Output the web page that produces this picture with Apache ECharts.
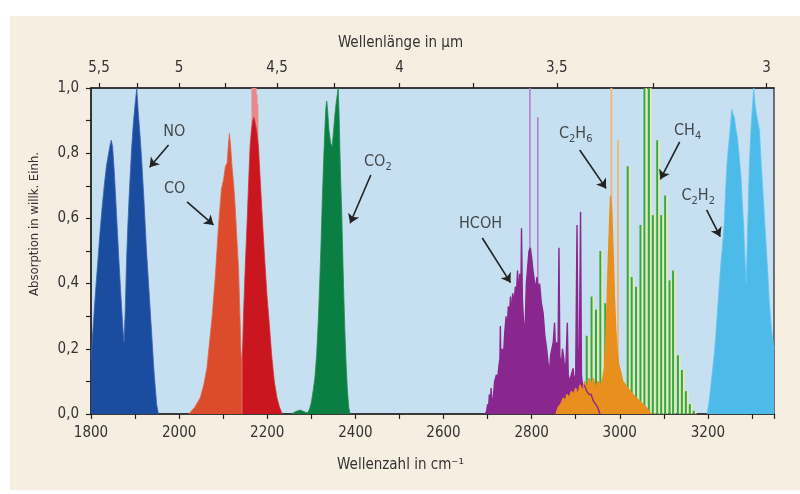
<!DOCTYPE html>
<html>
<head>
<meta charset="utf-8">
<script src="https://cdn.jsdelivr.net/npm/echarts@6/dist/echarts.min.js"></script>
<style>
  html, body { margin: 0; padding: 0; background: #fff; }
  #chart { width: 800px; height: 494px; }
</style>
</head>
<body>
<div id="chart"></div>
<script>
// wavenumber axis (cm-1) and wavelength ticks (um) for the top axis
const xMin = 1800, xMax = 3350;
const wavelengthLabels = [5.5, 5, 4.5, 4, 3.5, 3];
const wavelengthTicks = [5.5, 5.25, 5, 4.75, 4.5, 4.25, 4, 3.75, 3.5, 3.25, 3];

// band envelopes [wavenumber, absorption]
const noBand = [[1800,0.17],[1805,0.27],[1810,0.37],[1815,0.46],[1820,0.55],[1825,0.63],[1830,0.7],[1835,0.76],[1840,0.8],[1844,0.83],[1846,0.84],[1849,0.82],[1853,0.74],[1858,0.61],[1863,0.48],[1868,0.36],[1872,0.27],[1875,0.22],[1876,0.24],[1878,0.33],[1880,0.44],[1883,0.56],[1887,0.68],[1892,0.81],[1896,0.89],[1900,0.95],[1904,1.0],[1907,0.93],[1911,0.86],[1915,0.78],[1920,0.66],[1926,0.5],[1932,0.37],[1938,0.24],[1943,0.13],[1949,0.03],[1953,0]];
const coP = [[2022,0],[2035,0.02],[2048,0.05],[2056,0.09],[2063,0.14],[2069,0.22],[2075,0.3],[2082,0.42],[2089,0.57],[2096,0.69],[2101,0.72],[2105,0.76],[2109,0.77],[2112,0.83],[2114,0.86],[2117,0.82],[2120,0.76],[2124,0.7],[2127,0.64],[2131,0.54],[2135,0.44],[2138,0.3],[2140,0.2],[2142,0.16],[2142.3,0]];
const coR = [[2143.5,0],[2143.7,0.18],[2146,0.3],[2150,0.45],[2154,0.58],[2158,0.72],[2161,0.82],[2164,0.87],[2167,0.9],[2170,0.91],[2173,0.91],[2176,0.87],[2180,0.82],[2184,0.72],[2188,0.62],[2193,0.5],[2199,0.37],[2205,0.27],[2210,0.18],[2216,0.1],[2222,0.05],[2228,0.02],[2234,0]];
const co2Band = [[2255,0],[2265,0.008],[2275,0.012],[2285,0.006],[2292,0.004],[2296,0.015],[2300,0.035],[2304,0.07],[2308,0.11],[2312,0.18],[2316,0.29],[2319,0.4],[2322,0.52],[2325,0.66],[2328,0.78],[2331,0.88],[2333,0.94],[2335,0.96],[2337,0.93],[2340,0.87],[2344,0.83],[2347,0.82],[2350,0.86],[2353,0.91],[2356,0.95],[2359,0.98],[2361,1.0],[2363,0.92],[2365,0.8],[2367,0.7],[2369,0.62],[2372,0.45],[2374,0.35],[2376,0.26],[2379,0.15],[2382,0.07],[2385,0.02],[2388,0]];
const hcohBand = [[2695,0],[2698,0.01],[2700,0.03],[2702,0.01],[2704,0.06],[2706,0.02],[2708,0.08],[2710,0.03],[2713,0.05],[2716,0.1],[2720,0.12],[2723,0.11],[2726,0.15],[2728,0.17],[2729,0.27],[2730,0.17],[2733,0.2],[2736,0.18],[2739,0.25],[2742,0.3],[2744,0.24],[2747,0.33],[2750,0.31],[2752,0.36],[2754,0.3],[2757,0.37],[2760,0.34],[2763,0.39],[2766,0.38],[2768,0.44],[2770,0.36],[2773,0.43],[2775,0.3],[2777,0.57],[2779,0.35],[2781,0.3],[2784,0.23],[2786,0.3],[2788,0.4],[2791,0.45],[2794,0.5],[2797,0.51],[2800,0.48],[2803,0.44],[2806,0.41],[2809,0.38],[2812,0.42],[2815,0.38],[2818,0.4],[2822,0.34],[2826,0.31],[2830,0.24],[2834,0.2],[2837,0.16],[2840,0.12],[2843,0.18],[2846,0.2],[2849,0.22],[2852,0.28],[2854,0.2],[2857,0.22],[2860,0.2],[2862,0.51],[2864,0.18],[2867,0.14],[2870,0.2],[2873,0.17],[2875,0.13],[2878,0.16],[2881,0.28],[2883,0.12],[2886,0.1],[2890,0.12],[2894,0.14],[2897,0.1],[2900,0.12],[2903,0.58],[2905,0.2],[2908,0.14],[2911,0.62],[2913,0.12],[2916,0.08],[2920,0.09],[2925,0.07],[2930,0.06],[2935,0.06],[2940,0.04],[2945,0.03],[2950,0.02],[2955,0]];
const c2h6Band = [[2855,0],[2860,0.02],[2866,0.03],[2872,0.05],[2876,0.04],[2880,0.06],[2885,0.05],[2890,0.07],[2895,0.06],[2900,0.08],[2905,0.06],[2910,0.09],[2915,0.07],[2920,0.1],[2925,0.08],[2930,0.11],[2935,0.09],[2940,0.11],[2945,0.08],[2950,0.1],[2955,0.09],[2960,0.1],[2965,0.14],[2968,0.22],[2971,0.34],[2974,0.48],[2977,0.6],[2979,0.67],[2982,0.62],[2985,0.5],[2988,0.36],[2991,0.26],[2994,0.2],[2998,0.15],[3002,0.13],[3007,0.1],[3013,0.09],[3018,0.08],[3024,0.07],[3030,0.06],[3037,0.05],[3045,0.04],[3052,0.03],[3060,0.02],[3066,0.01],[3071,0]];
const c2h2Band = [[3198,0],[3203,0.04],[3207,0.09],[3211,0.14],[3215,0.19],[3219,0.26],[3222,0.32],[3226,0.4],[3230,0.47],[3234,0.53],[3237,0.58],[3240,0.68],[3243,0.76],[3246,0.81],[3249,0.85],[3252,0.9],[3254,0.935],[3257,0.92],[3260,0.91],[3264,0.87],[3267,0.85],[3271,0.79],[3275,0.73],[3278,0.65],[3281,0.58],[3284,0.48],[3287,0.4],[3290,0.56],[3294,0.76],[3298,0.88],[3301,0.94],[3304,1.0],[3307,0.95],[3310,0.92],[3313,0.9],[3317,0.87],[3320,0.79],[3324,0.7],[3328,0.61],[3332,0.52],[3336,0.43],[3339,0.35],[3343,0.28],[3346,0.24],[3350,0.2]];

// single lines [wavenumber, from, to]
const ch4Lines = [[2925,0,0.24],[2936,0,0.36],[2946,0,0.32],[2956,0,0.5],[2967,0,0.34],[3018,0,0.76],[3027,0,0.42],[3037,0,0.39],[3047,0,0.58],[3056,0,1.0],[3066,0,1.0],[3075,0,0.61],[3085,0,0.84],[3094,0,0.61],[3103,0,0.67],[3113,0,0.41],[3121,0,0.44],[3132,0,0.18],[3141,0,0.135],[3150,0,0.07],[3159,0,0.03],[3168,0,0.01]];
const hcohLines = [[2796,0,1.0],[2814,0,0.91]];
const c2h6Lines = [[2981,0,1.0],[2996,0,0.84]];
const coTopLines = [[2166,0,1.0],[2168,0,1.0],[2170,0,1.0],[2172,0,1.0],[2174,0,1.0],[2176,0,0.98],[2178,0,0.95]];
const gapLines = [[1876,0,0.29,'#9fa9da'],[2142.8,0,0.17,'#f2b7a6'],[2348,0.17,0.82,'#e4ea98']];

// annotations: [label, textX, textY, arrowFromX, arrowFromY, arrowToX, arrowToY]
const notes = [
  ['{n|NO}', 1989, 0.862, 1976, 0.825, 1933, 0.757],
  ['{n|CO}', 1990, 0.687, 2018, 0.651, 2078, 0.58],
  ['{n|CO}{s|2}', 2451, 0.77, 2435, 0.733, 2388, 0.585],
  ['{n|HCOH}', 2684, 0.58, 2688, 0.54, 2752, 0.403],
  ['{n|C}{s|2}{n|H}{s|6}', 2900, 0.856, 2909, 0.81, 2969, 0.692],
  ['{n|CH}{s|4}', 3154, 0.865, 3136, 0.835, 3092, 0.72],
  ['{n|C}{s|2}{n|H}{s|2}', 3178, 0.666, 3197, 0.626, 3228, 0.544]
];

const FONT = "'Liberation Sans Narrow', 'DejaVu Sans Condensed', 'Roboto', sans-serif";
const comma = (v, d) => v.toFixed(d).replace('.', ',');

const band = (name, data, fill, edge, edgeWidth) => ({
  name, type: 'line', data, symbol: 'none', smooth: false,
  lineStyle: { color: edge, width: edgeWidth || 0.8 },
  areaStyle: { color: fill, opacity: 1 },
  itemStyle: { color: fill }
});

const sticks = (name, data, color, width, highlight) => ({
  name, type: 'custom', data,
  renderItem(params, api) {
    const x = api.value(0);
    const p0 = api.coord([x, api.value(1)]);
    const p1 = api.coord([x, api.value(2)]);
    const c = data[params.dataIndex][3] || color;
    const children = [{
      type: 'line',
      shape: { x1: p0[0], y1: p0[1], x2: p1[0], y2: p1[1] },
      style: { stroke: c, lineWidth: width }
    }];
    if (highlight) {
      children.push({
        type: 'line',
        shape: { x1: p0[0] + 2, y1: p0[1], x2: p1[0] + 2, y2: p1[1] },
        style: { stroke: highlight, lineWidth: 1.4 }
      });
    }
    return { type: 'group', children };
  }
});

const chart = echarts.init(document.getElementById('chart'));
const option = {
  animation: false,
  backgroundColor: '#ffffff',
  textStyle: { fontFamily: FONT },
  graphic: [{
    type: 'rect', z: -10, silent: true,
    shape: { x: 10, y: 16, width: 790, height: 474 },
    style: { fill: '#f6eee1' }
  }],
  grid: {
    left: 91, right: 26, top: 88, bottom: 80,
    show: true, backgroundColor: '#c6dff1', borderColor: '#222', borderWidth: 1.2
  },
  xAxis: [{
    type: 'value', min: xMin, max: xMax, interval: 100,
    name: 'Wellenzahl in cm⁻¹', nameLocation: 'middle', nameGap: 44,
    nameTextStyle: { fontSize: 15, color: '#333', fontFamily: FONT, padding: [0, 64, 0, 0] },
    axisLine: { lineStyle: { color: '#222', width: 1.5 } },
    axisTick: { length: 5, lineStyle: { color: '#222', width: 1.2 } },
    axisLabel: {
      margin: 12, fontSize: 15, color: '#333', fontFamily: FONT,
      formatter: v => (v % 200 === 0 ? String(v) : '')
    },
    splitLine: { show: false }
  }, {
    type: 'value', min: xMin, max: xMax, position: 'top',
    name: 'Wellenlänge in µm', nameLocation: 'middle', nameGap: 37,
    nameTextStyle: { fontSize: 15, color: '#333', fontFamily: FONT, padding: [0, 64, 0, 0] },
    axisLine: { lineStyle: { color: '#222', width: 1.5 } },
    axisTick: { length: 5, lineStyle: { color: '#222', width: 1.2 },
      customValues: wavelengthTicks.map(w => 1e4 / w) },
    axisLabel: {
      margin: 12, fontSize: 15, color: '#333', fontFamily: FONT,
      customValues: wavelengthLabels.map(w => 1e4 / w),
      formatter: v => String(Math.round(1e6 / v) / 100).replace('.', ',')
    },
    splitLine: { show: false }
  }],
  yAxis: {
    type: 'value', min: 0, max: 1, interval: 0.1,
    name: 'Absorption in willk. Einh.', nameLocation: 'middle', nameGap: 50,
    nameTextStyle: { fontSize: 13, color: '#333', fontFamily: FONT, padding: [0, 0, 0, 54] },
    axisLine: { lineStyle: { color: '#222', width: 1.5 } },
    axisTick: { length: 5, lineStyle: { color: '#222', width: 1.2 } },
    axisLabel: {
      margin: 12, fontSize: 15, color: '#333', fontFamily: FONT,
      formatter: v => (Math.round(v * 10) % 2 === 0 ? comma(v, 1) : '')
    },
    splitLine: { show: false }
  },
  series: [
    sticks('CO top', coTopLines, '#e98a86', 1.6),
    band('NO', noBand, '#1a4d9f', '#3c63ad'),
    band('CO P', coP, '#dd4b2d', '#e2664a'),
    band('CO R', coR, '#c9161f', '#d0343a'),
    band('CO2', co2Band, '#0b7f42', '#1f8c4f'),
    sticks('gaps', gapLines, '#ccc', 1.2),
    sticks('HCOH lines', hcohLines, '#b57fc8', 1.6),
    band('HCOH', hcohBand, '#8a278f', '#8a278f', 1.4),
    sticks('CH4', ch4Lines, '#3aa641', 2, '#e6efa0'),
    sticks('C2H6 lines', c2h6Lines, '#f2b577', 1.8),
    band('C2H6', c2h6Band, '#e98f1d', '#e98f1d', 1.2),
    band('C2H2', c2h2Band, '#4dbbea', '#62c4ee'),
    {
      name: 'notes', type: 'scatter', symbolSize: 0, z: 10,
      data: notes.map(n => ({ value: [n[1], n[2]], label: { formatter: n[0] } })),
      label: {
        show: true, position: 'inside', color: '#222',
        rich: {
          n: { fontSize: 16, fontFamily: FONT, color: '#222', lineHeight: 18, verticalAlign: 'top' },
          s: { fontSize: 11, fontFamily: FONT, color: '#222', lineHeight: 11, padding: [8, 0, 0, 0], verticalAlign: 'top' }
        }
      },
      markLine: {
        silent: true, symbol: ['none', 'arrow'], symbolSize: 9,
        lineStyle: { color: '#222', width: 1.6, type: 'solid' },
        label: { show: false },
        data: notes.map(n => [{ coord: [n[3], n[4]] }, { coord: [n[5], n[6]] }])
      }
    }
  ]
};
chart.setOption(option);
</script>
</body>
</html>
